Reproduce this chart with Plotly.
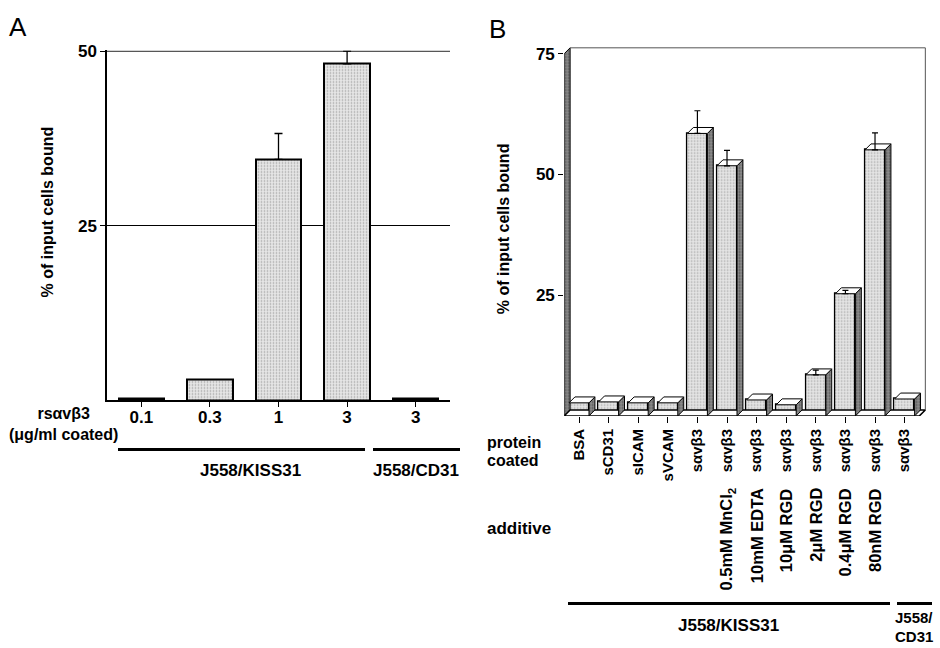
import plotly.graph_objects as go

W, H = 940, 648
def px(x): return x / W
def py(y): return 1 - y / H

# ---------------- data ----------------
# Panel A
a_doses = ["0.1", "0.3", "1", "3", "3"]
a_values = [0.3, 3.0, 34.5, 48.2, 0.3]
a_errors = [None, None, 3.7, 1.8, None]
a_groups = ["J558/KISS31", "J558/CD31"]

# Panel B
b_protein = ["BSA", "sCD31", "sICAM", "sVCAM", "sαvβ3", "sαvβ3", "sαvβ3",
             "sαvβ3", "sαvβ3", "sαvβ3", "sαvβ3", "sαvβ3"]
b_additive = ["", "", "", "", "", "0.5mM MnCl<sub>2</sub>", "10mM EDTA",
              "10μM RGD", "2μM RGD", "0.4μM RGD", "80nM RGD", ""]
b_values = [2.7, 2.9, 2.7, 2.7, 58.5, 51.8, 3.3, 2.3, 8.5, 25.3, 55.1, 3.5]
b_errors = [None, None, None, None, 4.7, 3.2, None, None, 1.0, 0.7, 3.5, None]
b_groups = ["J558/KISS31", "J558/", "CD31"]

FONT = "Liberation Sans, Arial, Helvetica, sans-serif"
front_pattern = dict(shape=".", fgcolor="#666666", bgcolor="#e6e6e6",
                     size=3, solidity=0.25, fillmode="overlay")

fig = go.Figure()

# ---------------- Panel A ----------------
ax = list(range(len(a_values)))
fig.add_trace(go.Bar(
    x=ax, y=a_values, width=0.66, xaxis="x", yaxis="y",
    marker=dict(color="#e6e6e6", pattern=front_pattern,
                line=dict(color="black", width=2)),
    showlegend=False, hoverinfo="skip", cliponaxis=False))
ea_x = [i for i, e in enumerate(a_errors) if e]
ea_y = [a_values[i] for i in ea_x]
ea_e = [a_errors[i] for i in ea_x]
fig.add_trace(go.Scatter(
    x=ea_x, y=ea_y, mode="markers", xaxis="x", yaxis="y",
    marker=dict(size=1, color="rgba(0,0,0,0)"),
    error_y=dict(type="data", array=ea_e, arrayminus=[0] * len(ea_e),
                 symmetric=False, color="black", thickness=1.3, width=4),
    showlegend=False, hoverinfo="skip", cliponaxis=False))

# ---------------- Panel B (pseudo 3D) ----------------
hw, dx, dy = 0.3375, 0.2, 1.23
bx = list(range(len(b_values)))

# left wall
fig.add_trace(go.Scatter(
    x=[-0.5, -0.5, -0.5 + dx, -0.5 + dx, -0.5],
    y=[0, 75, 75 + dy, dy, 0], mode="lines", fill="toself",
    fillcolor="#8a8a8a",
    fillpattern=dict(shape=".", fgcolor="#1a1a1a", size=3, solidity=0.35,
                     fillmode="overlay"),
    line=dict(color="black", width=1), xaxis="x2", yaxis="y2",
    showlegend=False, hoverinfo="skip"))
# floor
fig.add_trace(go.Scatter(
    x=[-0.5, 11.5, 11.5 + dx, -0.5 + dx, -0.5],
    y=[0, 0, dy, dy, 0], mode="lines", fill="toself", fillcolor="white",
    line=dict(color="black", width=1.5), xaxis="x2", yaxis="y2",
    showlegend=False, hoverinfo="skip"))
# back box outline
fig.add_trace(go.Scatter(
    x=[-0.5 + dx, 11.5 + dx, 11.5 + dx], y=[75 + dy, 75 + dy, dy],
    mode="lines", line=dict(color="#555555", width=1),
    xaxis="x2", yaxis="y2", showlegend=False, hoverinfo="skip"))

# front faces
fig.add_trace(go.Bar(
    x=bx, y=b_values, width=2 * hw, xaxis="x2", yaxis="y2",
    marker=dict(color="#e6e6e6", pattern=front_pattern,
                line=dict(color="black", width=1.3)),
    showlegend=False, hoverinfo="skip"))

side_x, side_y, top_x, top_y = [], [], [], []
for i, v in zip(bx, b_values):
    side_x += [i + hw, i + hw + dx, i + hw + dx, i + hw, i + hw, None]
    side_y += [0, dy, v + dy, v, 0, None]
    top_x += [i - hw, i + hw, i + hw + dx, i - hw + dx, i - hw, None]
    top_y += [v, v, v + dy, v + dy, v, None]
fig.add_trace(go.Scatter(
    x=side_x, y=side_y, mode="lines", fill="toself", fillcolor="#8f8f8f",
    fillpattern=dict(shape=".", fgcolor="#111111", size=3, solidity=0.35,
                     fillmode="overlay"),
    line=dict(color="black", width=1), xaxis="x2", yaxis="y2",
    showlegend=False, hoverinfo="skip"))
fig.add_trace(go.Scatter(
    x=top_x, y=top_y, mode="lines", fill="toself", fillcolor="white",
    line=dict(color="black", width=1), xaxis="x2", yaxis="y2",
    showlegend=False, hoverinfo="skip"))

eb_x = [i for i, e in enumerate(b_errors) if e]
eb_y = [b_values[i] for i in eb_x]
eb_e = [b_errors[i] for i in eb_x]
fig.add_trace(go.Scatter(
    x=eb_x, y=eb_y, mode="markers", xaxis="x2", yaxis="y2",
    marker=dict(size=1, color="rgba(0,0,0,0)"),
    error_y=dict(type="data", array=eb_e, arrayminus=[0] * len(eb_e),
                 symmetric=False, color="black", thickness=1.2, width=3),
    showlegend=False, hoverinfo="skip"))

# ---------------- layout ----------------
fig.update_layout(
    width=W, height=H, margin=dict(l=0, r=0, t=0, b=0),
    paper_bgcolor="white", plot_bgcolor="rgba(0,0,0,0)",
    font=dict(family=FONT, color="black"),
    bargap=0,
    xaxis=dict(domain=[px(107), px(450)], range=[-0.5, 4.5],
               tickvals=ax, ticktext=a_doses, ticks="outside", ticklen=5,
               tickcolor="black", showline=True, linecolor="black",
               linewidth=2, showgrid=False, zeroline=False,
               ticklabelstandoff=-4,
               tickfont=dict(family=FONT, size=17, color="black",
                             weight="bold"),
               anchor="y", fixedrange=True),
    yaxis=dict(domain=[py(397), py(43)], range=[0, 50.1], tickvals=[25, 50],
               ticks="outside", ticklen=5, tickcolor="black", showline=True,
               linecolor="black", linewidth=1.5, showgrid=True,
               gridcolor="black", gridwidth=1, zeroline=False,
               tickfont=dict(family=FONT, size=17, color="black",
                             weight="bold"),
               anchor="x", fixedrange=True),
    xaxis2=dict(domain=[px(564.2), px(928.3)], range=[-0.5, 11.8],
                tickvals=bx, ticktext=b_protein, tickangle=-90,
                ticks="outside", ticklen=6, tickcolor="black",
                showline=False, showgrid=False, zeroline=False,
                tickfont=dict(family=FONT, size=15, color="black",
                              weight="bold"),
                anchor="y2", fixedrange=True),
    yaxis2=dict(domain=[py(413), py(39)], range=[0, 76.5],
                tickvals=[25, 50, 75], ticks="outside", ticklen=5,
                tickcolor="black", showline=False, showgrid=False,
                zeroline=False,
                tickfont=dict(family=FONT, size=17, color="black",
                              weight="bold"),
                anchor="x2", fixedrange=True),
)

ann = []
def text(x, y, s, size=17, weight="bold", xanchor="center", yanchor="middle",
         angle=0, align="center", xref="paper", yref="paper"):
    ann.append(dict(x=x, y=y, xref=xref, yref=yref, text=s, showarrow=False,
                    xanchor=xanchor, yanchor=yanchor, textangle=angle,
                    align=align,
                    font=dict(family=FONT, size=size, color="black",
                              weight=weight)))

# panel letters
text(px(18), py(19), "A", size=26, weight="normal")
text(px(497), py(21), "B", size=26, weight="normal")
# y titles
text(px(47), py(207), "% of input cells bound", size=16, angle=-90)
text(px(503), py(223), "% of input cells bound", size=16, angle=-90)
# panel A labels
text(px(63), py(421), "rsαvβ3<br>(μg/ml coated)", size=16)
text(px(250), py(468), a_groups[0], size=17)
text(px(416), py(468), a_groups[1], size=17)
# panel B labels
text(px(485), py(440), "protein", size=16, xanchor="left")
text(px(485), py(458), "coated", size=16, xanchor="left")
text(px(485), py(527), "additive", size=17, xanchor="left")
for i, s in enumerate(b_additive):
    if s:
        text(i, py(484), s, size=16.5, angle=-90, yanchor="top",
             xref="x2")
text(px(728), py(625), b_groups[0], size=17)
text(px(914), py(617), b_groups[1], size=15)
text(px(914), py(636), b_groups[2], size=15)
fig.update_layout(annotations=ann)

shapes = []
def hline(x0, x1, y, w=3):
    shapes.append(dict(type="line", xref="paper", yref="paper",
                       x0=px(x0), x1=px(x1), y0=py(y), y1=py(y),
                       line=dict(color="black", width=w)))
hline(118, 365, 447)
hline(373, 460, 447)
hline(568, 890, 603)
hline(897, 932, 603)
# top reference line of panel A at 50
shapes.append(dict(type="line", xref="x domain", yref="y", x0=0, x1=1,
                   y0=50, y1=50, line=dict(color="black", width=1)))
fig.update_layout(shapes=shapes)

post = ("document.body.style.margin='0';document.body.style.padding='0';"
        "document.documentElement.style.overflow='hidden';"
        "var gd=document.getElementById('{plot_id}');"
        "gd.style.position='absolute';gd.style.left='0px';gd.style.top='0px';")
fig.write_html("out.html", config={"displayModeBar": False},
               post_script=post)
